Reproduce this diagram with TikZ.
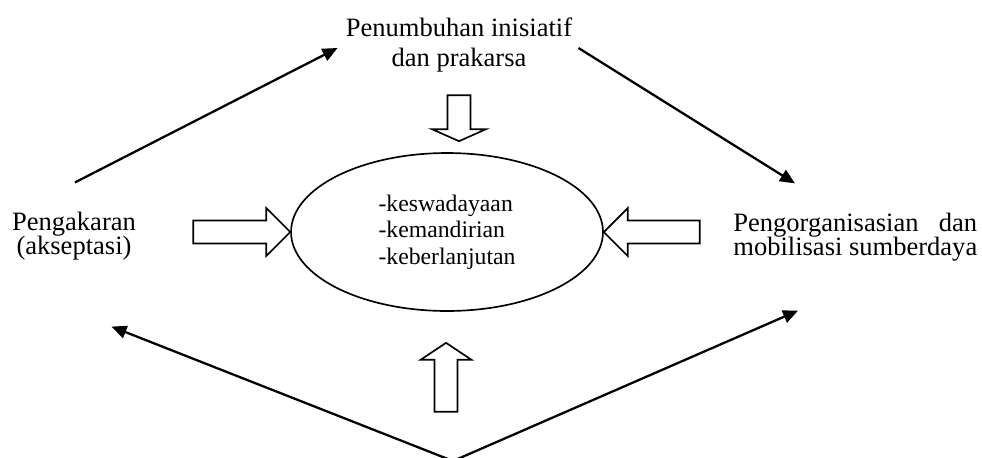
\documentclass[tikz,border=0pt]{standalone}
\usepackage{fontspec}
\setmainfont{Liberation Serif}
\usetikzlibrary{positioning,shapes.geometric,arrows.meta}

% hollow block arrow: tip anchor, direction, length, head length, head half width
\newcommand{\hollowarrow}[5]{%
  \draw[hollow, shift={#1}, rotate=#2] (0,0) -- (-#4,#5) -- (-#4,11.5) -- (-#3,11.5)
    -- (-#3,-11.5) -- (-#4,-11.5) -- (-#4,-#5) -- cycle;}
\newlength{\orgwidth}

\begin{document}
\begin{tikzpicture}[
  x=0.02cm, y=-0.02cm,
  phase/.style={inner sep=0pt, font=\fontsize{15.1}{13.9}\selectfont, align=center},
  hub/.style={ellipse, draw, line width=0.95pt, minimum width=6.24cm, minimum height=3.16cm,
              inner sep=0pt, align=left, font=\fontsize{13.5}{15.1}\selectfont},
  hollow/.style={draw, line width=0.95pt, fill=white},
  conn/.style={-{Triangle[length=0.3cm,width=0.26cm]}, line width=1.3pt},
]
  \useasboundingbox (0,0) rectangle (982,457);

  % Centre
  \node[hub] (core) at (447,232) {-keswadayaan\\-kemandirian\\-keberlanjutan};

  % Phases round it
  \node[phase, font=\fontsize{15.1}{17.6}\selectfont] (tumbuh) at (459,45)
    {Penumbuhan inisiatif\\dan prakarsa};
  \node[phase] (akar) at (74,236) {Pengakaran\\(akseptasi)};
  \node[phase, anchor=west, align=left] (organisasi) at (733,237)
    {\settowidth{\orgwidth}{mobilisasi sumberdaya}%
     \makebox[\orgwidth][s]{Pengorganisasian\hfill dan}\\mobilisasi sumberdaya};
  \coordinate (dasar) at (453,461);

  % Block arrows into the centre
  \hollowarrow{(core.west)}{0}{97}{24}{24}
  \hollowarrow{(core.east)}{180}{96}{24}{24}
  \hollowarrow{([shift={(12,-11)}]core.north)}{-90}{46}{12}{27}
  \hollowarrow{([shift={(-1,31)}]core.south)}{90}{69}{17}{25.5}

  % Cycle arrows
  \draw[conn] ([shift={(1,-29)}]akar.north) -- ([shift={(-8,3)}]tumbuh.west);
  \draw[conn] ([shift={(6,3)}]tumbuh.east) -- ([shift={(62,-29)}]organisasi.north west);
  \draw[conn] (dasar) -- ([shift={(37.5,66)}]akar.south);
  \draw[conn] (dasar) -- ([shift={(65,49)}]organisasi.south west);
\end{tikzpicture}
\end{document}
